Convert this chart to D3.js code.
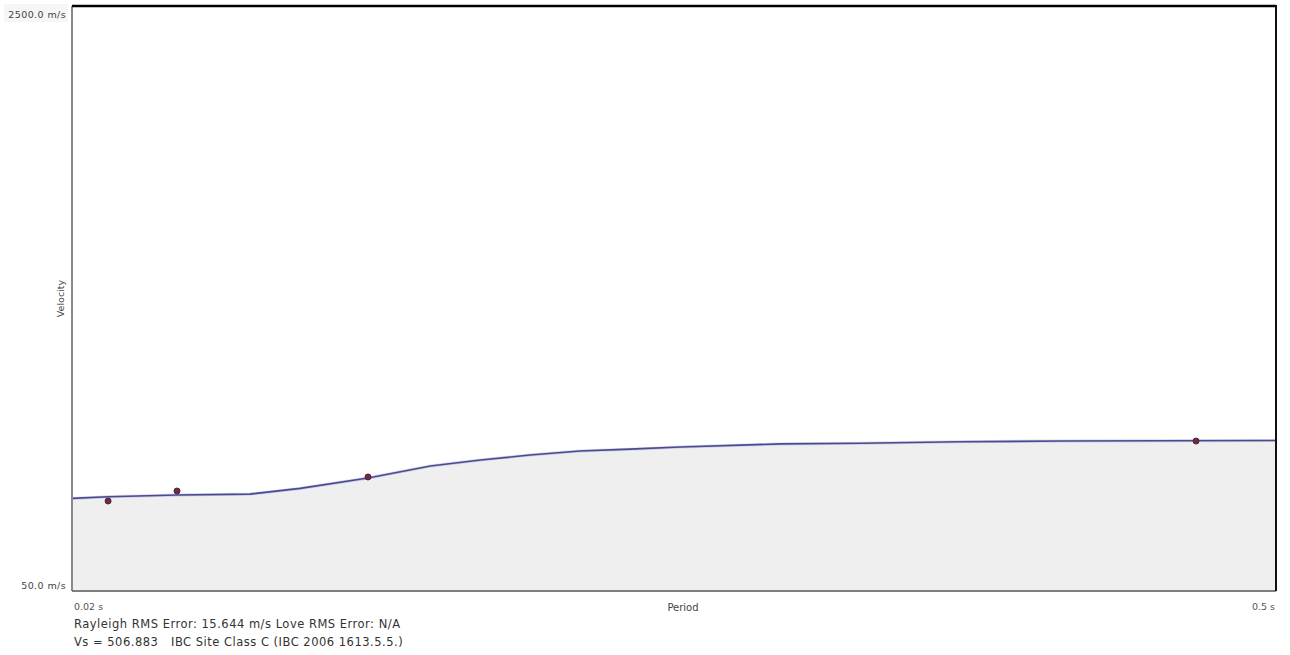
<!DOCTYPE html>
<html>
<head>
<meta charset="utf-8">
<script src="https://cdn.jsdelivr.net/npm/d3@7"></script>
<style>
  html, body { margin: 0; padding: 0; background: #fff; }
  svg { display: block; font-family: "DejaVu Sans", Verdana, sans-serif; }
</style>
</head>
<body>
<svg id="chart" width="1290" height="655"></svg>
<script>
// Theoretical dispersion curve (period in s, phase velocity in m/s)
const curvePeriods = [0.0200, 0.0344, 0.0619, 0.0910, 0.1110, 0.1381, 0.1630, 0.1830, 0.2027, 0.2226, 0.2426, 0.2626, 0.3025, 0.3344, 0.3743, 0.4142, 0.4541, 0.5000];
const curveVelocities = [435, 442, 449, 453, 477, 521, 571, 596, 617, 634, 642, 651, 664, 667, 673, 676, 677, 678];

// Picked (measured) Rayleigh dispersion points
const pickPeriods = [0.0344, 0.0619, 0.1381, 0.4685];
const pickVelocities = [424, 466, 525, 676];

// Axis end labels
const xTickValues = [0.02, 0.5];
const xTickLabels = ["0.02 s", "0.5 s"];
const yTickValues = [50, 2500];
const yTickLabels = ["50.0 m/s", "2500.0 m/s"];

// Summary lines: each is a list of [column, text] pieces
const footerLines = [
  [[0, "Rayleigh RMS Error: 15.644 m/s Love RMS Error: N/A"]],
  [[0, "Vs = 506.883"], [1, "IBC Site Class C (IBC 2006 1613.5.5.)"]]
];
const footerColumns = [74, 171];

const plot = { left: 72, right: 1275, top: 7, bottom: 590 };

const svg = d3.select("#chart");

const x = d3.scaleLinear().domain([0.02, 0.5]).range([plot.left, plot.right]);
const y = d3.scaleLinear().domain([50, 2500]).range([plot.bottom, plot.top]);

const curve = curvePeriods.map((p, i) => ({ p, v: curveVelocities[i] }));
const picks = pickPeriods.map((p, i) => ({ p, v: pickVelocities[i] }));

// faint backdrop behind the top label
svg.append("rect")
  .attr("x", 4).attr("y", 4).attr("width", plot.left - 8).attr("height", 18)
  .attr("fill", "#f6f6f6");

// shaded region beneath the curve
svg.append("path")
  .datum(curve)
  .attr("fill", "#efefef")
  .attr("d", d3.area().x(d => x(d.p)).y0(plot.bottom).y1(d => y(d.v)));

// dispersion curve
svg.append("path")
  .datum(curve)
  .attr("fill", "none")
  .attr("stroke", "#8888dd")
  .attr("stroke-width", 3)
  .attr("stroke-opacity", 0.35)
  .attr("d", d3.line().x(d => x(d.p)).y(d => y(d.v)));
svg.append("path")
  .datum(curve)
  .attr("fill", "none")
  .attr("stroke", "#4a4a8e")
  .attr("stroke-width", 1.6)
  .attr("d", d3.line().x(d => x(d.p)).y(d => y(d.v)));

// picked points
svg.append("g").selectAll("circle")
  .data(picks)
  .join("circle")
  .attr("cx", d => x(d.p))
  .attr("cy", d => y(d.v))
  .attr("r", 3)
  .attr("fill", "#7a2636")
  .attr("stroke", "#3d2a4a")
  .attr("stroke-width", 1);

// frame
svg.append("line").attr("x1", plot.left).attr("x2", plot.left).attr("y1", plot.top - 1).attr("y2", plot.bottom + 1)
  .attr("stroke", "#8a8a8a").attr("stroke-width", 2);
svg.append("line").attr("x1", plot.left).attr("x2", plot.right + 1).attr("y1", plot.bottom + 1).attr("y2", plot.bottom + 1)
  .attr("stroke", "#555").attr("stroke-width", 1.5);
svg.append("line").attr("x1", plot.left).attr("x2", plot.right + 1).attr("y1", plot.top - 1).attr("y2", plot.top - 1)
  .attr("stroke", "#000").attr("stroke-width", 2.5);
svg.append("line").attr("x1", plot.right + 1).attr("x2", plot.right + 1).attr("y1", plot.top - 2).attr("y2", plot.bottom + 1)
  .attr("stroke", "#111").attr("stroke-width", 2);

// y end labels
svg.append("g").selectAll("text")
  .data(yTickValues)
  .join("text")
  .attr("x", plot.left - 6)
  .attr("y", (d, i) => i === 0 ? y(d) - 1 : y(d) + 11)
  .attr("text-anchor", "end")
  .attr("font-size", 9.5)
  .attr("letter-spacing", 0.4)
  .attr("fill", "#444")
  .text((d, i) => yTickLabels[i]);

// x end labels
svg.append("g").selectAll("text")
  .data(xTickValues)
  .join("text")
  .attr("x", (d, i) => i === 0 ? x(d) + 2 : x(d))
  .attr("y", 610)
  .attr("text-anchor", (d, i) => i === 0 ? "start" : "end")
  .attr("font-size", 9.5)
  .attr("fill", "#555")
  .text((d, i) => xTickLabels[i]);

// axis titles
svg.append("text")
  .attr("x", 683).attr("y", 611)
  .attr("text-anchor", "middle")
  .attr("font-size", 10)
  .attr("fill", "#444")
  .text("Period");

svg.append("text")
  .attr("transform", `translate(64,${(plot.top + plot.bottom) / 2}) rotate(-90)`)
  .attr("text-anchor", "middle")
  .attr("font-size", 9.5)
  .attr("fill", "#444")
  .text("Velocity");

// footer summary
const footer = svg.append("g")
  .attr("font-size", 11.5)
  .attr("letter-spacing", 0.5)
  .attr("fill", "#333");
footerLines.forEach((pieces, row) => {
  pieces.forEach(([col, txt]) => {
    footer.append("text")
      .attr("x", footerColumns[col])
      .attr("y", 628 + row * 18)
      .text(txt);
  });
});
</script>
</body>
</html>
